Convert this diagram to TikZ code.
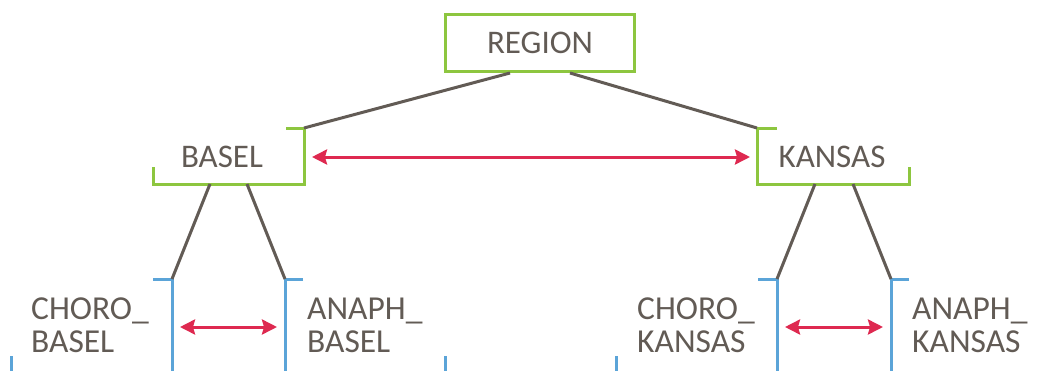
\documentclass[tikz,border=0pt]{standalone}
\usepackage{fontspec}
\setmainfont{Carlito}
\usetikzlibrary{arrows.meta, positioning, calc}
\definecolor{leafgreen}{RGB}{141,198,63}
\definecolor{skyblue}{RGB}{91,164,216}
\definecolor{crimson}{RGB}{222,41,80}
\definecolor{mudgray}{RGB}{98,91,85}
\tikzset{
  top/.style={rectangle, draw=leafgreen, line width=3pt, minimum width=189pt,
    minimum height=57pt, font=\fontsize{33}{33}\selectfont, text=mudgray},
  mid/.style={font=\fontsize{33}{33}\selectfont, text=mudgray},
  leaf/.style={font=\fontsize{33.5}{33}\selectfont, text=mudgray, align=left,
    anchor=west, inner sep=0pt},
  gbrk/.style={draw=leafgreen, line width=3pt},
  bbrk/.style={draw=skyblue, line width=3pt},
  link/.style={draw=mudgray, line width=3pt},
  pair/.style={{Stealth[length=15pt,width=15pt,inset=2pt]}-{Stealth[length=15pt,width=15pt,inset=2pt]},
    draw=crimson, line width=3pt}
}

\begin{document}
\begin{tikzpicture}[x=1pt, y=-1pt]
  \useasboundingbox (0,0) rectangle (1042,370);
  \clip (0,0) rectangle (1042,370);

  % root
  \node[top] (region) at (540,43) {REGION};

  % second level
  \node[mid] (basel) at (222,157) {BASEL};
  \node[mid] (kansas) at (832,157) {KANSAS};
  \coordinate (basel-tr) at (304,128);
  \coordinate (kansas-tl) at (757,128);
  \draw[gbrk] (286,128) -- (basel-tr) -- (304,184) -- (153,184) -- (153,167);
  \draw[gbrk] (777,128) -- (kansas-tl) -- (757,184) -- (909,184) -- (909,167);
  \draw[pair] (basel.east -| 312,0) -- (kansas.west -| 750,0);

  % leaves
  \node[leaf] (choroB) at (31,325) {CHORO\_\\BASEL};
  \node[leaf] (anaphB) at (307,325) {ANAPH\_\\BASEL};
  \node[leaf] (choroK) at (637,325) {CHORO\_\\KANSAS};
  \node[leaf] (anaphK) at (912,325) {ANAPH\_\\KANSAS};
  \coordinate (choroB-tr) at (172,279);
  \coordinate (anaphB-tl) at (285,279);
  \coordinate (choroK-tr) at (777,279);
  \coordinate (anaphK-tl) at (891,279);
  \draw[bbrk] (153,279) -- (choroB-tr) -- (172,374) -- (11,374) -- (11,356);
  \draw[bbrk] (303,279) -- (anaphB-tl) -- (285,374) -- (445,374) -- (445,356);
  \draw[bbrk] (758,279) -- (choroK-tr) -- (777,374) -- (616,374) -- (616,356);
  \draw[bbrk] (909,279) -- (anaphK-tl) -- (891,374) -- (1051,374) -- (1051,356);
  \draw[pair] (180,327) -- (277,327);
  \draw[pair] (785,327) -- (883,327);

  % tree links
  \draw[link] ([xshift=-30pt]region.south) -- (basel-tr);
  \draw[link] ([xshift=30pt]region.south) -- (kansas-tl);
  \draw[link] (210,184) -- (choroB-tr);
  \draw[link] (247,184) -- (anaphB-tl);
  \draw[link] (815,184) -- (choroK-tr);
  \draw[link] (853,184) -- (anaphK-tl);
\end{tikzpicture}
\end{document}
